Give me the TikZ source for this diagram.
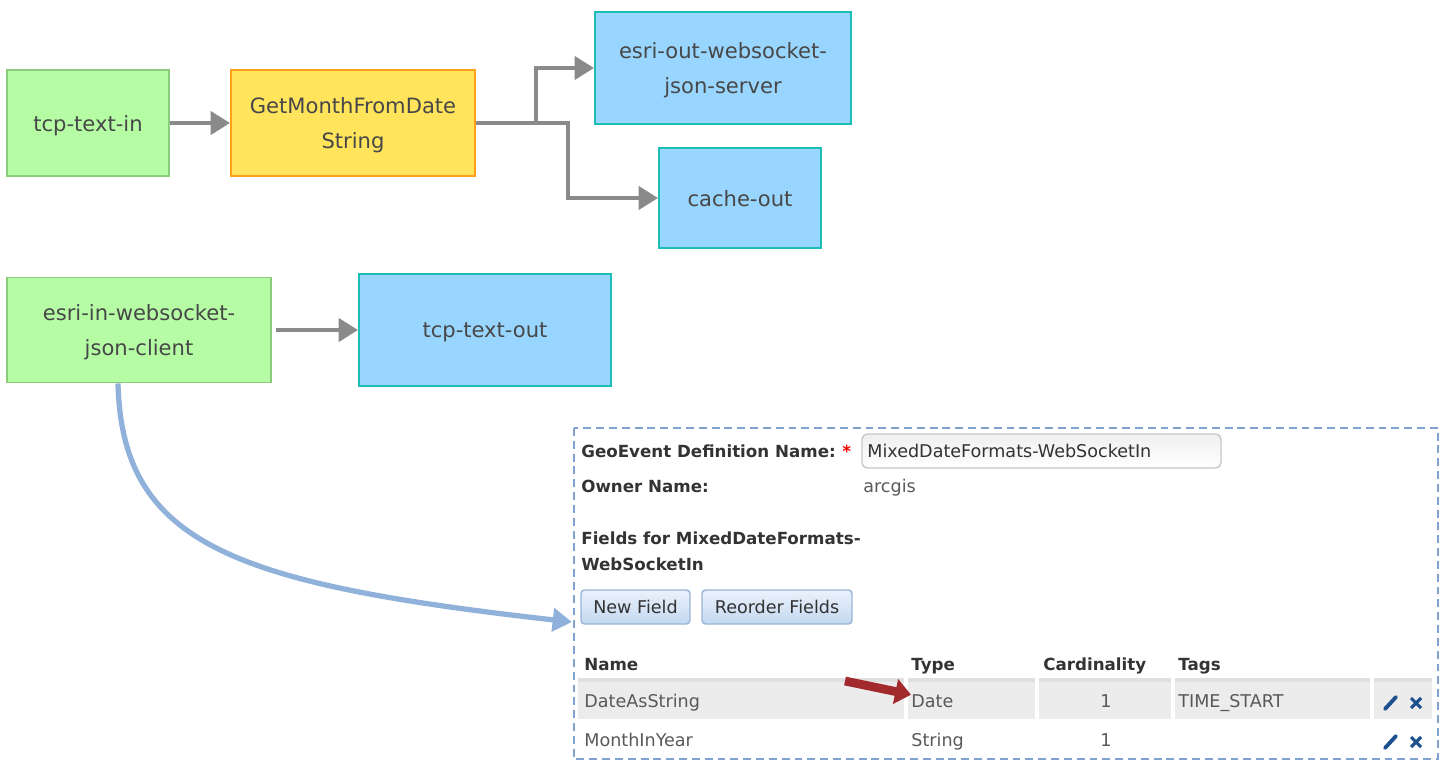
\documentclass[tikz,border=0pt]{standalone}
\usepackage{fontspec}
\setmainfont{DejaVu Sans}
\usepackage{tikz}
\usetikzlibrary{arrows.meta, positioning}

\definecolor{inGreen}{HTML}{B5FCA5}
\definecolor{inGreenLine}{HTML}{8CCB7C}
\definecolor{procYellow}{HTML}{FFE45C}
\definecolor{procOrange}{HTML}{FF9F1A}
\definecolor{outBlue}{HTML}{99D6FF}
\definecolor{outTeal}{HTML}{1DBDB5}
\definecolor{flowGray}{HTML}{8A8A8A}
\definecolor{linkBlue}{HTML}{90B2DA}
\definecolor{frameBlue}{HTML}{7FA3CE}
\definecolor{markRed}{HTML}{A2292C}
\definecolor{rowGray}{HTML}{ECECEC}
\definecolor{btnTop}{HTML}{EAF2FC}
\definecolor{btnBottom}{HTML}{C4D8F0}
\definecolor{btnLine}{HTML}{98B4D8}
\definecolor{iconBlue}{HTML}{1E4F8E}

\tikzset{
    block/.style={draw, line width=1.1pt, align=center, inner sep=0pt, text depth=0pt,
        font=\fontsize{12}{20.4}\selectfont, text=black!72},
    inbox/.style={block, fill=inGreen, draw=inGreenLine},
    procbox/.style={block, fill=procYellow, draw=procOrange},
    outbox/.style={block, fill=outBlue, draw=outTeal},
    flow/.style={draw=flowGray, line width=2.4pt, -{Triangle[length=11pt,width=13pt]}},
    formlabel/.style={anchor=base west, inner sep=0pt,
        font=\fontsize{9.5}{14.7}\selectfont\bfseries, text=black!80},
    formtext/.style={anchor=base west, inner sep=0pt,
        font=\fontsize{10}{14.7}\selectfont, text=black!65},
    button/.style={draw=btnLine, line width=0.8pt, rounded corners=2pt,
        top color=btnTop, bottom color=btnBottom, inner sep=0pt,
        font=\fontsize{10}{12}\selectfont, text=black!80}
}

\begin{document}
\begin{tikzpicture}[x=0.02cm, y=-0.02cm]
    \useasboundingbox (0,0) rectangle (1448,761);

    % First flow
    \node[inbox, minimum width=3.24cm, minimum height=2.12cm] (tcpin) at (88,123) {tcp-text-in};
    \node[procbox, minimum width=4.88cm, minimum height=2.12cm] (getmonth) at (353,123) {GetMonthFromDate\\String};
    \node[outbox, minimum width=5.12cm, minimum height=2.24cm] (wsout) at (723,68) {esri-out-websocket-\\json-server};
    \node[outbox, minimum width=3.24cm, minimum height=2.0cm] (cacheout) at (740,198) {cache-out};
    \draw[flow] (tcpin) -- (getmonth);
    \draw[flow] (getmonth.east) -- ++(60,0) |- (wsout.west);
    \draw[flow] (getmonth.east) -- ++(92,0) |- (cacheout.west);

    % Second flow
    \node[inbox, minimum width=5.28cm, minimum height=2.1cm] (wsin) at (139,330) {esri-in-websocket-\\json-client};
    \node[outbox, minimum width=5.04cm, minimum height=2.24cm] (tcpout) at (485,330) {tcp-text-out};
    \draw[flow] ([xshift=0.08cm]wsin.east) -- (tcpout.west);

    % GeoEvent definition panel
    \draw[frameBlue, line width=1.4pt, dash pattern=on 4.5pt off 2.8pt] (574,428) rectangle (1438,759);
    \coordinate (linkend) at (572,622);
    \draw[linkBlue, line width=3pt, -{Triangle[length=11pt,width=13pt]}]
        ([xshift=-0.42cm]wsin.south) .. controls (122,545) and (235,584) .. (linkend);

    \node[formlabel] (defname) at (581,457) {GeoEvent Definition Name:};
    \node[formlabel, text=red] (required) at (842,457) {*};
    \draw[black!22, line width=0.8pt, rounded corners=3pt, top color=black!6, bottom color=white]
        (862,434) rectangle (1221,468);
    \node[formtext, text=black!80] (namefield) at (867,457) {MixedDateFormats-WebSocketIn};
    \node[formlabel] (owner) at (581,492) {Owner Name:};
    \node[formtext] (ownerval) at (863,492) {arcgis};
    \node[formlabel] (fields1) at (581,544) {Fields for MixedDateFormats-};
    \node[formlabel] (fields2) at (581,570) {WebSocketIn};

    \node[button, minimum width=2.18cm, minimum height=0.68cm] (newfield) at (635.5,607) {New Field};
    \node[button, minimum width=3.0cm, minimum height=0.68cm] (reorder) at (777,607) {Reorder Fields};

    % Field table
    \fill[black!12] (578,678) rectangle (1432,682);
    \fill[rowGray] (578,682) rectangle (1432,719);
    \foreach \cx in {906,1037,1173,1372}
        \draw[white, line width=2pt] (\cx,678) -- (\cx,719);

    \node[formlabel] (hname) at (584,670) {Name};
    \node[formlabel] (htype) at (911,670) {Type};
    \node[formlabel] (hcard) at (1043,670) {Cardinality};
    \node[formlabel] (htags) at (1178,670) {Tags};

    \node[formtext] (name1) at (584,707) {DateAsString};
    \node[formtext] (datetype) at (911,707) {Date};
    \node[formtext, anchor=base] (card1) at (1106,707) {1};
    \node[formtext] (tags1) at (1178,707) {TIME\_START};
    \node[formtext] (name2) at (584,746) {MonthInYear};
    \node[formtext] (type2) at (911,746) {String};
    \node[formtext, anchor=base] (card2) at (1106,746) {1};

    % edit and delete icons
    \foreach \ry in {703,742} {
        \draw[iconBlue, line width=2.2pt, line cap=round] (1385,\ry+6) -- (1396,\ry-6);
        \draw[iconBlue, line width=1.8pt] (1411,\ry-5) -- (1421,\ry+5) (1411,\ry+5) -- (1421,\ry-5);
    }

    % marker arrow
    \coordinate (marktail) at (845,681);
    \draw[markRed, line width=5pt, -{Triangle[length=9pt,width=14pt]}] (marktail) -- ([yshift=0.12cm]datetype.west);
\end{tikzpicture}
\end{document}
